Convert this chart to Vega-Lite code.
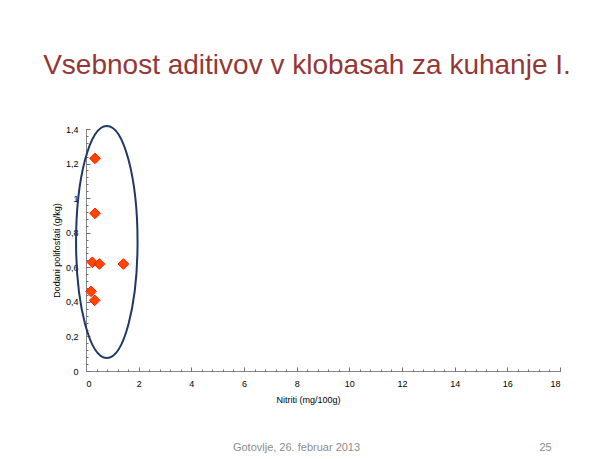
{
  "$schema": "https://vega.github.io/schema/vega-lite/v6.json",
  "autosize": "none",
  "width": 474,
  "height": 242,
  "padding": {"left": 86, "top": 129, "right": 54, "bottom": 88},
  "background": "#ffffff",
  "title": {
    "text": "Vsebnost aditivov v klobasah za kuhanje I.",
    "font": "Liberation Sans",
    "fontSize": 28,
    "fontWeight": "normal",
    "color": "#953735",
    "anchor": "middle",
    "frame": "group",
    "baseline": "bottom",
    "dx": -16,
    "offset": 14
  },
  "config": {
    "view": {"stroke": null},
    "font": "Liberation Sans",
    "axis": {
      "grid": false,
      "domainColor": "#868686",
      "tickColor": "#6f6f6f",
      "tickWidth": 1,
      "labelColor": "#000000",
      "labelFont": "Liberation Sans",
      "labelFontSize": 9,
      "titleFont": "Liberation Sans",
      "titleFontSize": 9,
      "titleFontWeight": "normal",
      "titleColor": "#000000"
    }
  },
  "resolve": {"axis": {"x": "independent", "y": "independent"}},
  "layer": [
    {
      "data": {
        "values": [
          {"nitriti": 0.34, "polifosfati": 1.23},
          {"nitriti": 0.34, "polifosfati": 0.912},
          {"nitriti": 0.24, "polifosfati": 0.629},
          {"nitriti": 0.51, "polifosfati": 0.619},
          {"nitriti": 1.42, "polifosfati": 0.619},
          {"nitriti": 0.19, "polifosfati": 0.461},
          {"nitriti": 0.33, "polifosfati": 0.409}
        ]
      },
      "mark": {
        "type": "point",
        "shape": "diamond",
        "filled": true,
        "color": "#FF4500",
        "stroke": "#FF2200",
        "strokeWidth": 1,
        "size": 115,
        "opacity": 1
      },
      "encoding": {
        "x": {
          "field": "nitriti",
          "type": "quantitative",
          "scale": {"domain": [0, 18], "nice": false, "zero": true},
          "axis": {
            "orient": "bottom",
            "values": [0, 2, 4, 6, 8, 10, 12, 14, 16, 18],
            "tickSize": -4,
            "labelPadding": 12,
            "title": "Nitriti (mg/100g)",
            "titleX": 222,
            "titleY": 31,
            "titleAlign": "center",
            "titleBaseline": "alphabetic"
          }
        },
        "y": {
          "field": "polifosfati",
          "type": "quantitative",
          "scale": {"domain": [0, 1.4], "nice": false},
          "axis": {
            "orient": "left",
            "values": [0, 0.2, 0.4, 0.6, 0.8, 1, 1.2, 1.4],
            "labelExpr": "replace(format(datum.value, '~g'), '.', ',')",
            "tickSize": -4,
            "labelPadding": 12,
            "title": "Dodani polifosfati (g/kg)",
            "titleAngle": -90,
            "titleX": -30,
            "titleY": 121,
            "titleAlign": "center",
            "titleBaseline": "middle"
          }
        }
      }
    },
    {
      "data": {"values": [{"nitriti": 0.79, "polifosfati": 0.747}]},
      "mark": {
        "type": "point",
        "shape": "M0,-1A0.265,1,0,1,1,0,1A0.265,1,0,1,1,0,-1Z",
        "filled": false,
        "stroke": "#1F3864",
        "strokeWidth": 2,
        "size": 53824,
        "opacity": 1
      },
      "encoding": {
        "x": {
          "field": "nitriti",
          "type": "quantitative",
          "axis": {
            "orient": "bottom",
            "values": [0, 0.4, 0.8, 1.2, 1.6, 2, 2.4, 2.8, 3.2, 3.6, 4, 4.4, 4.8, 5.2, 5.6, 6, 6.4, 6.8, 7.2, 7.6, 8, 8.4, 8.8, 9.2, 9.6, 10, 10.4, 10.8, 11.2, 11.6, 12, 12.4, 12.8, 13.2, 13.6, 14, 14.4, 14.8, 15.2, 15.6, 16, 16.4, 16.8, 17.2, 17.6, 18],
            "labels": false,
            "domain": false,
            "tickSize": -2,
            "title": "Gotovlje, 26. februar 2013",
            "titleX": 210,
            "titleY": 79,
            "titleAlign": "center",
            "titleBaseline": "alphabetic",
            "titleFontSize": 11,
            "titleColor": "#8C8C8C"
          }
        },
        "y": {
          "field": "polifosfati",
          "type": "quantitative",
          "axis": {
            "orient": "left",
            "values": [0, 0.04, 0.08, 0.12, 0.16, 0.2, 0.24, 0.28, 0.32, 0.36, 0.4, 0.44, 0.48, 0.52, 0.56, 0.6, 0.64, 0.68, 0.72, 0.76, 0.8, 0.84, 0.88, 0.92, 0.96, 1, 1.04, 1.08, 1.12, 1.16, 1.2, 1.24, 1.28, 1.32, 1.36, 1.4],
            "labels": false,
            "domain": false,
            "tickSize": -2,
            "title": "25",
            "titleAngle": 0,
            "titleX": 459,
            "titleY": 321,
            "titleAlign": "center",
            "titleBaseline": "alphabetic",
            "titleFontSize": 11,
            "titleColor": "#8C8C8C"
          }
        }
      }
    }
  ]
}
